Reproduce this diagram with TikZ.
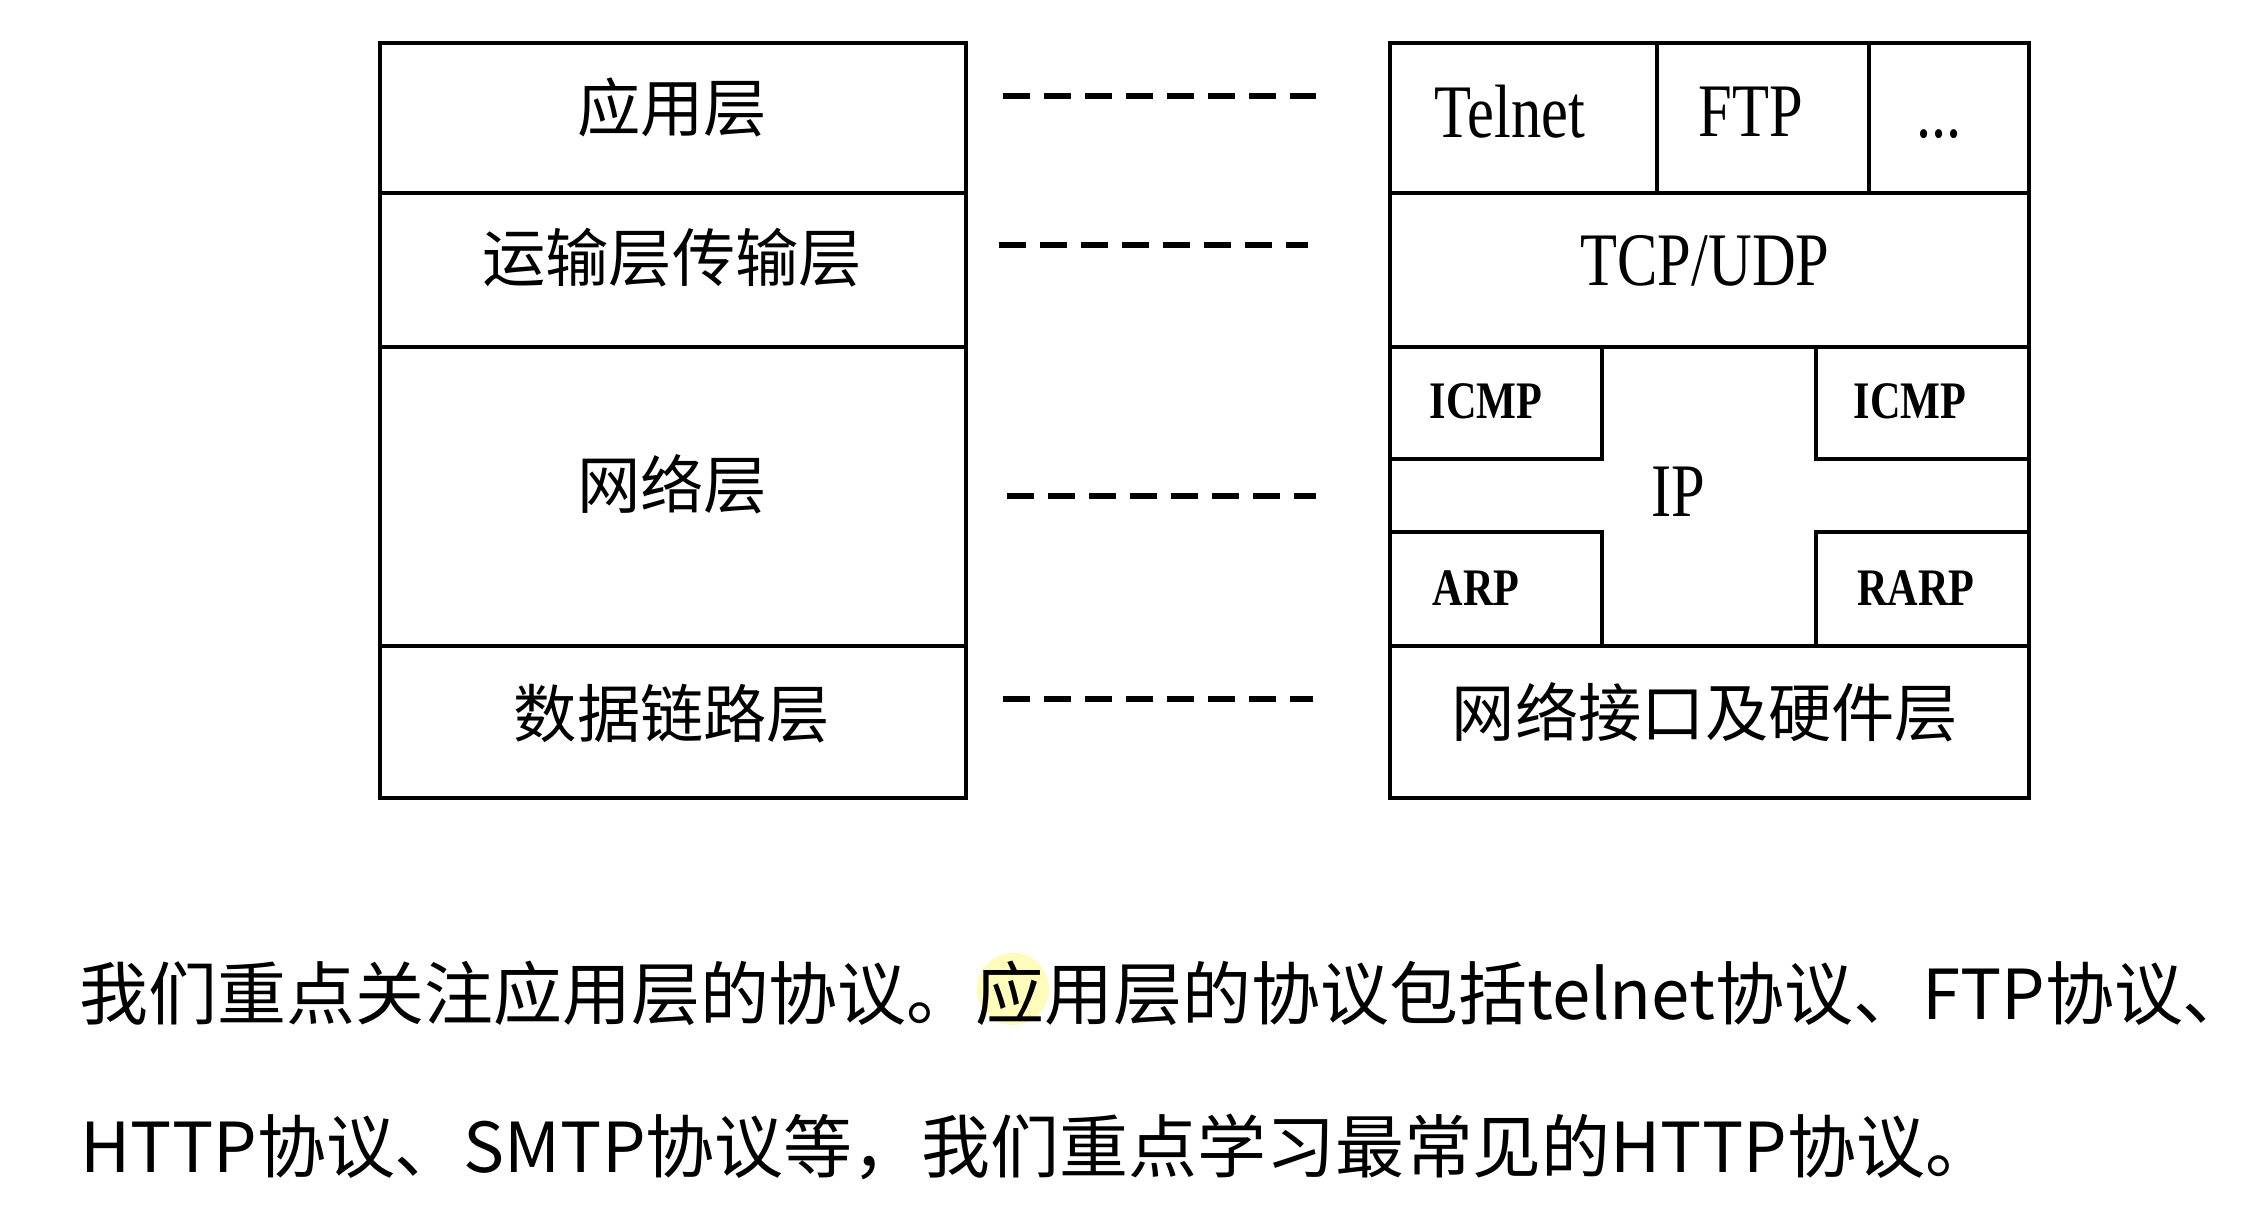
\documentclass[tikz,border=0pt]{standalone}
\usepackage{fontspec}
\setmainfont{Liberation Serif}
\newfontfamily\cnfont{Noto Sans CJK SC}
\newfontfamily\tallserif[FakeStretch=0.8]{Liberation Serif}

\begin{document}
\begin{tikzpicture}[
  x=0.01cm, y=-0.01cm,
  box/.style={draw, line width=1.2pt},
  dashline/.style={line width=1.8pt, dash pattern=on 0.27cm off 0.14cm},
  cnlabel/.style={font=\cnfont\fontsize{18pt}{20pt}\selectfont, inner sep=0pt},
  enlabel/.style={font=\tallserif\fontsize{21.5pt}{24pt}\selectfont, inner sep=0pt},
  smlabel/.style={font=\tallserif\bfseries\fontsize{15pt}{17pt}\selectfont, inner sep=0pt},
  para/.style={font=\cnfont\fontsize{19.6pt}{22pt}\selectfont, anchor=base west, inner sep=0pt}
]
  \useasboundingbox[fill=white] (0,0) rectangle (2247,1211);

  % OSI side
  \draw[box] (380,43) rectangle (966,798);
  \draw[box] (380,193) -- (966,193);
  \draw[box] (380,347) -- (966,347);
  \draw[box] (380,646) -- (966,646);
  \node[cnlabel] (app)   at (672,107) {应用层};
  \node[cnlabel] (trans) at (672,258) {运输层传输层};
  \node[cnlabel] (net)   at (672,484) {网络层};
  \node[cnlabel] (link)  at (672,714) {数据链路层};

  % TCP/IP side
  \draw[box] (1390,43) rectangle (2029,798);
  \draw[box] (1390,193) -- (2029,193);
  \draw[box] (1390,347) -- (2029,347);
  \draw[box] (1390,646) -- (2029,646);
  \draw[box] (1657,43) -- (1657,193);
  \draw[box] (1869,43) -- (1869,193);
  \draw[box] (1390,347) rectangle (1602,459);
  \draw[box] (1816,347) rectangle (2029,459);
  \draw[box] (1390,532) rectangle (1602,646);
  \draw[box] (1816,532) rectangle (2029,646);
  \node[enlabel] (telnet) at (1510,112) {Telnet};
  \node[enlabel] (ftp)    at (1751,112) {FTP};
  \node[enlabel] (more)   at (1939,134) {...};
  \node[enlabel] (tcpudp) at (1705,261) {TCP/UDP};
  \node[smlabel] (icmpl)  at (1486,401) {ICMP};
  \node[smlabel] (icmpr)  at (1910,401) {ICMP};
  \node[enlabel] (ip)     at (1678,492) {IP};
  \node[smlabel] (arp)    at (1476,588) {ARP};
  \node[smlabel] (rarp)   at (1916,588) {RARP};
  \node[cnlabel] (hw)     at (1705,712) {网络接口及硬件层};

  \foreach \i/\xa/\xb/\yy in {1/1003/1316/96, 2/999/1308/245, 3/1007/1316/496, 4/1003/1313/699} {
    \coordinate (dl\i) at (\xa,\yy);
    \coordinate (dr\i) at (\xb,\yy);
    \draw[dashline] (dl\i) -- (dr\i);
  }

  % caption
  \fill[yellow!45, opacity=0.6] (1013,989) circle (0.36cm);
  \node[para] (line1) at (79,1019) {我们重点关注应用层的协议。应用层的协议包括telnet协议、FTP协议、\kern-0.6em};
  \node[para] (line2) at (80,1172) {HTTP协议、SMTP协议等，我们重点学习最常见的HTTP协议。};
\end{tikzpicture}
\end{document}
